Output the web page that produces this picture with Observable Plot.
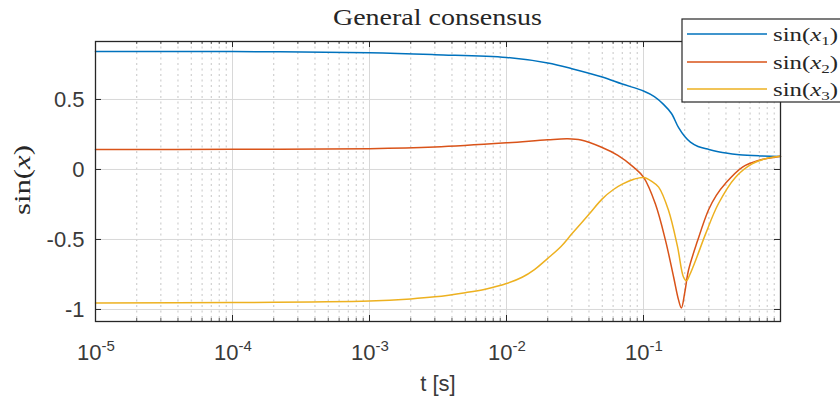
<!DOCTYPE html>
<html><head><meta charset="utf-8">
<script src="https://cdn.jsdelivr.net/npm/d3@7"></script>
<script src="https://cdn.jsdelivr.net/npm/@observablehq/plot@0.6"></script>
<style>
body{margin:0;background:#fff;}
#wrap{position:relative;width:840px;height:407px;overflow:hidden;background:#fff;}
#wrap svg{display:block;}
#overlay{position:absolute;left:0;top:0;}
</style></head><body><div id="wrap"></div>
<script>
// ---- data ----
const seriesNames = ["sin(x1)", "sin(x2)", "sin(x3)"];
const seriesColors = ["#0072BD", "#D95319", "#EDB120"];

const t1 = [1e-5, 1e-4, 1e-3, 3e-3, 1e-2, 2e-2, 3e-2, 5e-2, 7e-2, 0.1, 0.12, 0.14, 0.16, 0.18, 0.2, 0.22, 0.25, 0.3, 0.4, 0.5, 0.7, 1];
const v1 = [0.843, 0.842, 0.833, 0.82, 0.80, 0.76, 0.72, 0.66, 0.61, 0.56, 0.52, 0.465, 0.40, 0.30, 0.235, 0.195, 0.164, 0.143, 0.117, 0.105, 0.097, 0.093];

const t2 = [1e-5, 1e-4, 1e-3, 3e-3, 1e-2, 2e-2, 2.8e-2, 3.5e-2, 4.9e-2, 6.5e-2, 8.5e-2, 0.1, 0.122, 0.145, 0.166, 0.18, 0.189, 0.2, 0.213, 0.248, 0.298, 0.34, 0.396, 0.528, 0.69, 1];
const v2 = [0.143, 0.144, 0.148, 0.16, 0.19, 0.212, 0.219, 0.21, 0.16, 0.10, 0.015, -0.055, -0.245, -0.51, -0.77, -0.93, -0.99, -0.88, -0.72, -0.51, -0.29, -0.185, -0.10, 0.017, 0.064, 0.095];

const t3 = [1e-5, 1e-4, 1e-3, 2e-3, 3e-3, 5e-3, 7e-3, 1e-2, 1.3e-2, 1.6e-2, 2e-2, 2.5e-2, 3e-2, 4e-2, 5e-2, 6e-2, 7e-2, 8.5e-2, 0.1, 0.115, 0.129, 0.152, 0.177, 0.196, 0.206, 0.218, 0.24, 0.284, 0.352, 0.47, 0.62, 0.8, 1];
const v3 = [-0.953, -0.951, -0.94, -0.925, -0.91, -0.88, -0.855, -0.815, -0.77, -0.715, -0.635, -0.55, -0.46, -0.32, -0.21, -0.145, -0.105, -0.07, -0.057, -0.085, -0.126, -0.29, -0.55, -0.77, -0.795, -0.75, -0.65, -0.46, -0.245, -0.055, 0.04, 0.08, 0.095];

const xMajor = [1e-5, 1e-4, 1e-3, 1e-2, 1e-1];
const xTickBase = "10";
const xTickExp = ["-5", "-4", "-3", "-2", "-1"];
const yTicks = [-1, -0.5, 0, 0.5];
const yTickLabels = ["-1", "-0.5", "0", "0.5"];
const titleText = "General consensus";
const xLabelText = "t [s]";

// ---- build ----
const rows = [];
[[t1, v1], [t2, v2], [t3, v3]].forEach(([ts, vs], k) => ts.forEach((t, i) => rows.push({t, v: vs[i], s: seriesNames[k]})));

const W = 840, H = 407, mT = 41, mL = 95, mR = 60, mB = 86;
const fw = W - mL - mR, fh = H - mT - mB;
const xDomain = [1e-5, 1], yDomain = [-1.086, 0.914];
const xMinor = d3.scaleLog().domain(xDomain).ticks().filter(t => t < 0.999 && !xMajor.some(m => Math.abs(m - t) / m < 1e-6));
const axisCol = "#262626";
const sans = "Liberation Sans, Arial, Helvetica, sans-serif";

const chart = Plot.plot({
  width: W, height: H,
  marginTop: mT, marginLeft: mL, marginRight: mR, marginBottom: mB,
  x: {type: "log", domain: xDomain, axis: null},
  y: {domain: yDomain, axis: null},
  color: {domain: seriesNames, range: seriesColors},
  style: {fontFamily: sans, background: "#fff"},
  marks: [
    Plot.ruleX(xMinor, {x: d => d, stroke: "#b8b8b8", strokeWidth: 0.8, strokeDasharray: "2,3.5"}),
    Plot.ruleX(xMajor, {x: d => d, stroke: "#d8d8d8", strokeWidth: 1}),
    Plot.ruleY(yTicks, {y: d => d, stroke: "#d8d8d8", strokeWidth: 1}),
    Plot.line(rows, {x: "t", y: "v", z: "s", stroke: "s", strokeWidth: 1.5, curve: "catmull-rom"}),
    // inward ticks
    Plot.ruleX(xMajor, {x: d => d, stroke: axisCol, insetTop: fh - 6}),
    Plot.ruleX(xMajor, {x: d => d, stroke: axisCol, insetBottom: fh - 6}),
    Plot.ruleX(xMinor, {x: d => d, stroke: axisCol, strokeWidth: 0.8, insetTop: fh - 3}),
    Plot.ruleX(xMinor, {x: d => d, stroke: axisCol, strokeWidth: 0.8, insetBottom: fh - 3}),
    Plot.ruleY(yTicks, {y: d => d, stroke: axisCol, insetRight: fw - 6}),
    Plot.ruleY(yTicks, {y: d => d, stroke: axisCol, insetLeft: fw - 6}),
    Plot.frame({stroke: axisCol, strokeWidth: 1.3}),
    // tick labels
    Plot.text(xMajor, {x: d => d, frameAnchor: "bottom", text: () => xTickBase, textAnchor: "end", lineAnchor: "bottom", dx: 6, dy: 38, fontSize: 22, fill: "#3a3a3a"}),
    Plot.text(xMajor, {x: d => d, frameAnchor: "bottom", text: (d, i) => xTickExp[i], textAnchor: "start", lineAnchor: "bottom", dx: 6, dy: 29, fontSize: 15, fill: "#3a3a3a"}),
    Plot.text(yTicks, {y: d => d, frameAnchor: "left", text: (d, i) => yTickLabels[i], textAnchor: "end", lineAnchor: "middle", dx: -11, fontSize: 22, fill: "#3a3a3a"}),
    Plot.text([xLabelText], {frameAnchor: "bottom", text: d => d, lineAnchor: "bottom", dy: 69, fontSize: 22, fill: "#3a3a3a"})
  ]
});
const wrap = document.getElementById("wrap");
wrap.appendChild(chart);

// ---- overlay: title, y label, legend ----
const NS = "http://www.w3.org/2000/svg";
const ov = document.createElementNS(NS, "svg");
ov.setAttribute("id", "overlay");
ov.setAttribute("width", W); ov.setAttribute("height", H);
const serif = "Liberation Serif, Times New Roman, serif";
function el(tag, attrs, parent) {
  const e = document.createElementNS(NS, tag);
  for (const k in attrs) e.setAttribute(k, attrs[k]);
  (parent || ov).appendChild(e); return e;
}
// title
const tt = el("text", {x: 437.5, y: 25, "text-anchor": "middle", "font-family": serif, "font-size": 24, fill: "#262626", textLength: 209, lengthAdjust: "spacingAndGlyphs"});
tt.textContent = titleText;
// y label sin(x)
const yl = el("text", {transform: "translate(30,180) rotate(-90)", "text-anchor": "middle", "font-family": serif, "font-size": 23, fill: "#262626", textLength: 70, lengthAdjust: "spacingAndGlyphs"});
el("tspan", {}, yl).textContent = "sin(";
el("tspan", {"font-style": "italic"}, yl).textContent = "x";
el("tspan", {}, yl).textContent = ")";
// legend
el("rect", {x: 682, y: 19, width: 170, height: 83, fill: "#fff", stroke: axisCol, "stroke-width": 1.2});
const legY = [34, 62, 89];
seriesNames.forEach((n, i) => {
  el("line", {x1: 687, x2: 767, y1: legY[i], y2: legY[i], stroke: seriesColors[i], "stroke-width": 1.5});
  const tx = el("text", {x: 773, y: legY[i] + 6.5, "font-family": serif, "font-size": 19, fill: "#262626", textLength: 65, lengthAdjust: "spacingAndGlyphs"});
  el("tspan", {}, tx).textContent = "sin(";
  el("tspan", {"font-style": "italic"}, tx).textContent = "x";
  el("tspan", {"font-size": 13, dy: 4}, tx).textContent = String(i + 1);
  el("tspan", {dy: -4}, tx).textContent = ")";
});
wrap.appendChild(ov);
</script>
</body></html>
